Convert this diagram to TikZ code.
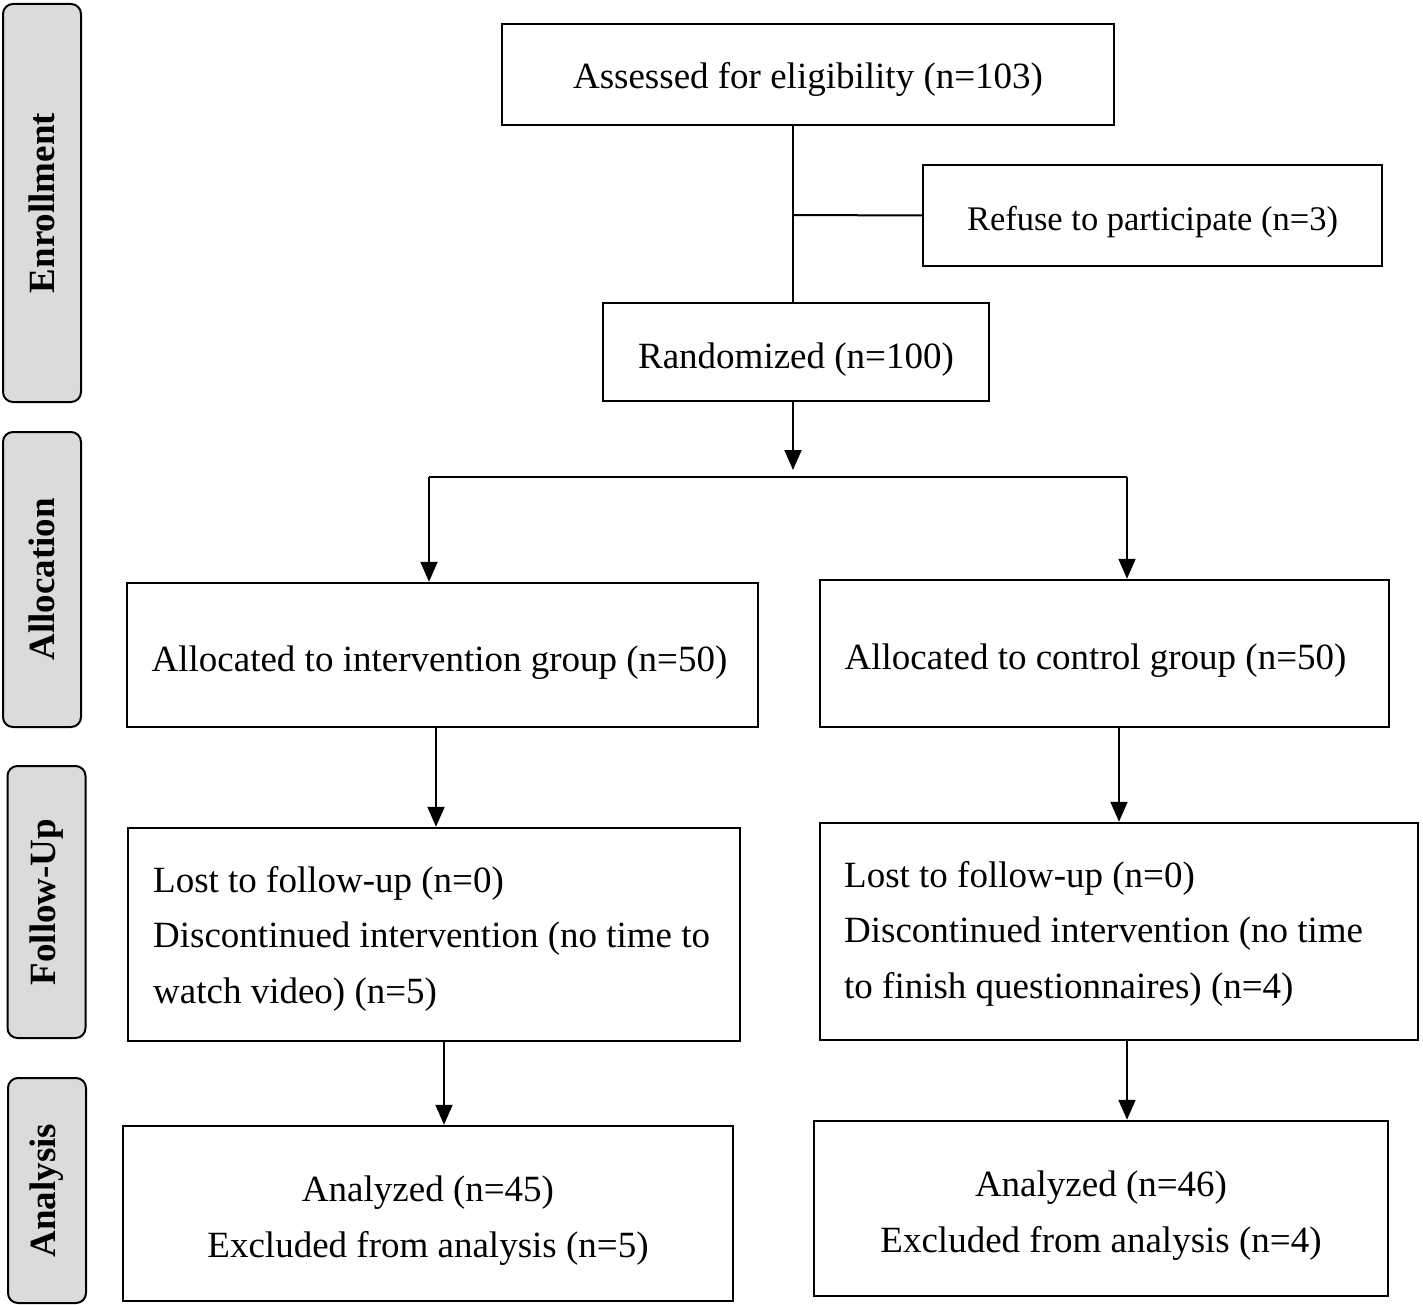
\documentclass[tikz,border=0pt]{standalone}
\usepackage{fontspec}
\setmainfont{Liberation Serif}
\usetikzlibrary{arrows.meta,calc}
\newcommand\tstrut[1]{\rule{0pt}{#1}}
\begin{document}
\begin{tikzpicture}[x=0.5pt,y=-0.5pt,
 box/.style={draw,line width=1.25pt,inner sep=0pt,align=center,font=\fontsize{18.5}{27.75}\selectfont},
 ltext/.style={anchor=west,inner sep=0pt,align=left,font=\fontsize{18.5}{27.75}\selectfont},
 side/.style={draw,line width=1pt,fill=black!14,rounded corners=5pt,rotate=90,minimum height=39pt,inner sep=0pt,font=\bfseries\fontsize{18.5}{22}\selectfont},
 conn/.style={line width=1pt},
 arr/.style={conn,-{Triangle[length=10pt,width=8.5pt]}}]
\fill[white] (0,0) rectangle (1423,1305);
\useasboundingbox (0,0) rectangle (1423,1305);

% side labels
\node[side,minimum width=199pt] (s1) at (42,203) {Enrollment};
\node[side,minimum width=147.5pt] (s2) at (42,579.5) {Allocation};
\node[side,minimum width=136pt] (s3) at (46.5,902) {Follow-Up};
\node[side,minimum width=112.5pt] (s4) at (47,1190.5) {Analysis};

% boxes
\node[box,minimum width=306pt,minimum height=50.5pt] (assess) at (808,74.5) {\tstrut{18pt}Assessed for eligibility (n=103)};
\node[box,minimum width=229.5pt,minimum height=50.5pt,font=\fontsize{17.25}{22}\selectfont] (refuse) at (1152.5,215.5) {\tstrut{19pt}Refuse to participate (n=3)};
\node[box,minimum width=193pt,minimum height=49pt] (rand) at (796,352) {\tstrut{20pt}Randomized (n=100)};
\node[box,minimum width=315.5pt,minimum height=72pt] (allocL) at (442.5,655) {\tstrut{20pt}Allocated to intervention group (n=50)\hspace*{3pt}};
\node[box,minimum width=284.5pt,minimum height=73.5pt] (allocR) at (1104.5,653.5) {\tstrut{20pt}Allocated to control group (n=50)\hspace*{9pt}};
\node[box,minimum width=306pt,minimum height=106.5pt] (fuL) at (434,934.5) {};
\node[ltext] (fuLt) at ([xshift=13pt,yshift=-2pt]fuL.west) {Lost to follow-up (n=0)\\Discontinued intervention (no time to\\watch video) (n=5)};
\node[box,minimum width=299pt,minimum height=108.5pt] (fuR) at (1119,931.5) {};
\node[ltext] (fuRt) at ([xshift=12.5pt,yshift=-1pt]fuR.west) {Lost to follow-up (n=0)\\Discontinued intervention (no time\\to finish questionnaires) (n=4)};
\node[box,minimum width=305pt,minimum height=87.5pt] (anL) at (428,1213.5) {\tstrut{20pt}Analyzed (n=45)\\Excluded from analysis (n=5)};
\node[box,minimum width=287pt,minimum height=87.5pt] (anR) at (1101,1208.5) {\tstrut{20pt}Analyzed (n=46)\\Excluded from analysis (n=4)};

% connectors
\coordinate (c1) at (793,215);
\draw[conn] (c1 |- assess.south) -- (c1 |- rand.north);
\draw[conn] (c1) -- (refuse.west);
\coordinate (split) at (793,470);
\coordinate (hl) at (429,477);
\coordinate (hr) at (1127,477);
\draw[arr] (split |- rand.south) -- (split);
\draw[conn] (hl) -- (hr);
\draw[arr] (hl) -- (hl |- allocL.north);
\draw[arr] (hr) -- (hr |- allocR.north);
\coordinate (f1) at (436,0);
\coordinate (f2) at (1119,0);
\draw[arr] (f1 |- allocL.south) -- (f1 |- fuL.north);
\draw[arr] (f2 |- allocR.south) -- (f2 |- fuR.north);
\coordinate (a1) at (444,0);
\coordinate (a2) at (1127,0);
\draw[arr] (a1 |- fuL.south) -- (a1 |- anL.north);
\draw[arr] (a2 |- fuR.south) -- (a2 |- anR.north);
\end{tikzpicture}
\end{document}
